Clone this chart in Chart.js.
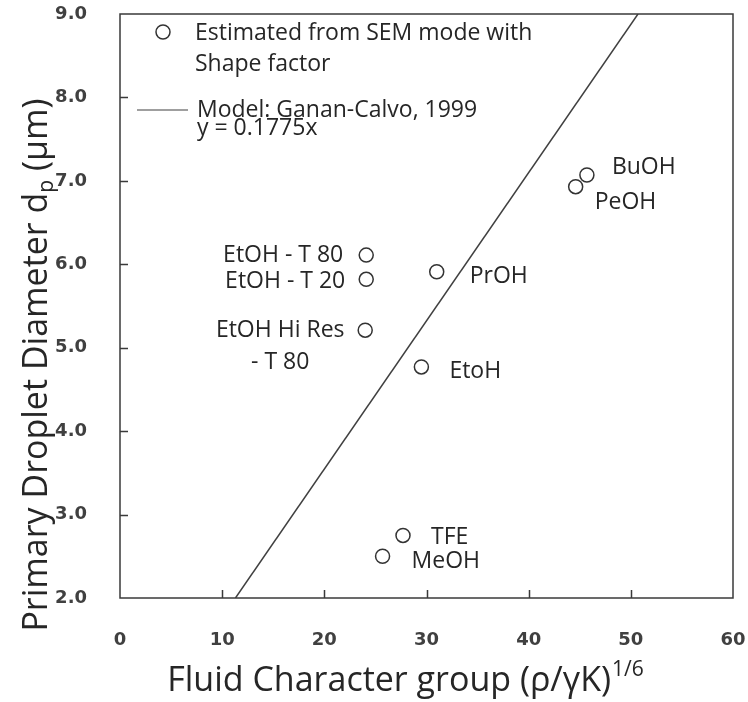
<!DOCTYPE html>
<html>
<head>
<meta charset="utf-8">
<script src="https://cdn.jsdelivr.net/npm/chart.js@4"></script>
<style>
  html, body { margin: 0; padding: 0; background: #fff; }
  #wrap { width: 748px; height: 702px; }
</style>
</head>
<body>
<div id="wrap"><canvas id="scatterChart" width="748" height="702"></canvas></div>
<script>
var fluids = ['BuOH', 'PeOH', 'EtOH - T 80', 'EtOH - T 20', 'PrOH', 'EtOH Hi Res|- T 80', 'EtoH', 'TFE', 'MeOH'];
var fluidGroup = [45.7, 44.6, 24.1, 24.1, 31.0, 24.0, 29.5, 27.7, 25.7];
var dropDiameter = [7.07, 6.93, 6.11, 5.82, 5.91, 5.21, 4.77, 2.75, 2.50];

// model line, Ganan-Calvo 1999 (y = 0.1775x), end points where it leaves the box
var modelX = [11.3, 50.7];
var modelY = [2.0, 9.0];

var xTicks = [0, 10, 20, 30, 40, 50, 60];
var yTicks = [2, 3, 4, 5, 6, 7, 8, 9];

// label placement next to each point: [dx, dy, align]
var labelPlace = [
    [25, -8, 'left'], [19, 16, 'left'], [-23, 0, 'right'], [-21, 2, 'right'],
    [33, 5, 'left'], [-85, 0, 'center'], [28, 5, 'left'], [28, 2, 'left'], [29, 5, 'left']
];

var textFont = '23px "Open Sans"';
var ink = '#262626';

var scatterData = fluidGroup.map(function (v, i) { return { x: v, y: dropDiameter[i] }; });
var modelData = modelX.map(function (v, i) { return { x: v, y: modelY[i] }; });

function noPad(s) { s.paddingTop = 0; s.paddingBottom = 0; s.paddingLeft = 0; s.paddingRight = 0; }

var decorPlugin = {
    id: 'decor',
    afterDatasetsDraw: function (chart) {
        var c = chart.ctx, a = chart.chartArea;
        var xs = chart.scales.x, ys = chart.scales.y;
        c.save();
        // box
        c.strokeStyle = '#3a3a3a';
        c.lineWidth = 1.5;
        c.strokeRect(a.left, a.top, a.right - a.left, a.bottom - a.top);
        // inward ticks
        c.beginPath();
        xTicks.slice(1, -1).forEach(function (t) {
            var px = Math.round(xs.getPixelForValue(t)) + 0.5;
            c.moveTo(px, a.bottom); c.lineTo(px, a.bottom - 8);
        });
        yTicks.slice(1, -1).forEach(function (t) {
            var py = Math.round(ys.getPixelForValue(t)) + 0.5;
            c.moveTo(a.left, py); c.lineTo(a.left + 8, py);
        });
        c.stroke();

        // point labels
        c.fillStyle = ink;
        c.font = textFont;
        c.textBaseline = 'middle';
        fluids.forEach(function (name, i) {
            var px = xs.getPixelForValue(fluidGroup[i]) + labelPlace[i][0];
            var py = ys.getPixelForValue(dropDiameter[i]) + labelPlace[i][1];
            c.textAlign = labelPlace[i][2];
            name.split('|').forEach(function (line, k) {
                c.fillText(line, px, py + k * 32);
            });
        });

        // legend
        c.textAlign = 'left';
        c.beginPath();
        c.arc(a.left + 43, a.top + 18, 7, 0, Math.PI * 2);
        c.fillStyle = '#fff';
        c.fill();
        c.strokeStyle = '#333';
        c.lineWidth = 1.5;
        c.stroke();
        c.fillStyle = ink;
        c.fillText('Estimated from SEM mode with', a.left + 75, a.top + 19);
        c.fillText('Shape factor', a.left + 75, a.top + 50);
        c.beginPath();
        c.moveTo(a.left + 17, a.top + 96); c.lineTo(a.left + 68, a.top + 96);
        c.strokeStyle = '#404040';
        c.lineWidth = 1.2;
        c.stroke();
        c.fillText('Model: Ganan-Calvo, 1999', a.left + 77, a.top + 96);
        c.fillText('y = 0.1775x', a.left + 77, a.top + 114);

        // axis titles
        c.textBaseline = 'alphabetic';
        c.font = '34px "Open Sans"';
        c.textAlign = 'left';
        var t1 = 'Fluid Character group (\u03c1/\u03b3K)';
        var w1 = c.measureText(t1).width;
        c.font = '21px "Open Sans"';
        var w2 = c.measureText('1/6').width;
        var startX = 405 - (w1 + w2) / 2;
        c.font = '34px "Open Sans"';
        c.fillText(t1, startX, 691);
        c.font = '21px "Open Sans"';
        c.fillText('1/6', startX + w1 + 1, 676);

        c.translate(47, 365);
        c.rotate(-Math.PI / 2);
        c.font = '34px "Open Sans"';
        var p1 = 'Primary Droplet Diameter d', p3 = ' (\u03bcm)';
        var q1 = c.measureText(p1).width, q3 = c.measureText(p3).width;
        c.font = '21px "Open Sans"';
        var q2 = c.measureText('p').width;
        var sx = -(q1 + q2 + q3) / 2;
        c.font = '34px "Open Sans"';
        c.fillText(p1, sx, 0);
        c.fillText(p3, sx + q1 + q2, 0);
        c.font = '21px "Open Sans"';
        c.fillText('p', sx + q1, 6);
        c.restore();
    }
};

var ctx = document.getElementById('scatterChart').getContext('2d');
var myChart = new Chart(ctx, {
    type: 'scatter',
    data: {
        datasets: [{
            label: 'Model: Ganan-Calvo, 1999',
            data: modelData,
            showLine: true,
            borderColor: '#404040',
            borderWidth: 1.5,
            pointRadius: 0,
            fill: false
        }, {
            label: 'Estimated from SEM mode with Shape factor',
            data: scatterData,
            pointStyle: 'circle',
            pointRadius: 7,
            pointHoverRadius: 7,
            borderColor: '#333333',
            borderWidth: 1.5,
            backgroundColor: '#ffffff'
        }]
    },
    options: {
        responsive: false,
        animation: false,
        layout: { padding: { left: 0, right: 15, top: 14, bottom: 0 } },
        plugins: { legend: { display: false }, tooltip: { enabled: false } },
        scales: {
            x: {
                type: 'linear', min: 0, max: 60,
                afterBuildTicks: function (s) { s.ticks = xTicks.map(function (v) { return { value: v }; }); },
                afterFit: function (s) { s.height = 104; noPad(s); },
                grid: { display: false },
                border: { display: false },
                ticks: {
                    padding: 24,
                    color: '#404040',
                    font: { family: 'DejaVu Sans', size: 18, weight: 'bold' },
                    callback: function (v) { return v; }
                }
            },
            y: {
                type: 'linear', min: 2, max: 9,
                afterBuildTicks: function (s) { s.ticks = yTicks.map(function (v) { return { value: v }; }); },
                afterFit: function (s) { s.width = 120; noPad(s); },
                grid: { display: false },
                border: { display: false },
                ticks: {
                    padding: 25,
                    color: '#404040',
                    font: { family: 'DejaVu Sans', size: 18, weight: 'bold' },
                    callback: function (v) { return v.toFixed(1); }
                }
            }
        }
    },
    plugins: [decorPlugin]
});
</script>
</body>
</html>
